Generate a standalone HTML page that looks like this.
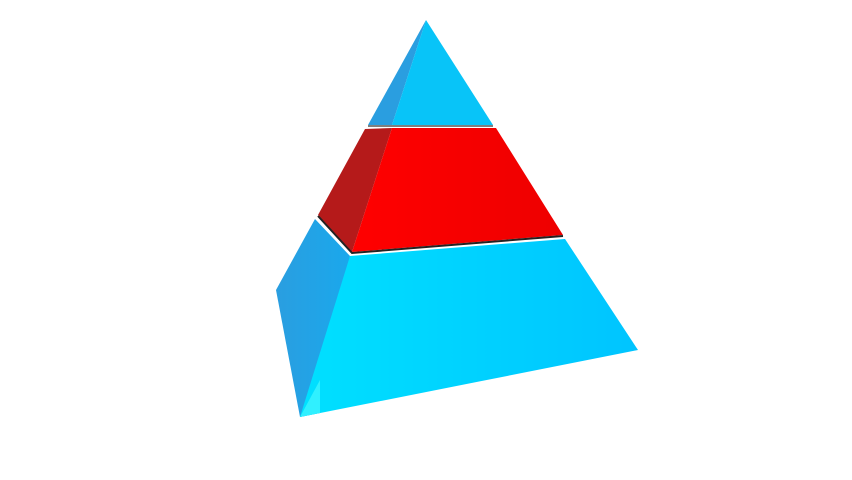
<!DOCTYPE html>
<html><head><meta charset="utf-8"><style>
html,body{margin:0;padding:0;background:#fff;width:852px;height:480px;overflow:hidden;font-family:"Liberation Sans",sans-serif}
</style></head><body>
<svg width="852" height="480">
<defs>
<linearGradient id="fb" x1="0" x2="1" y1="0" y2="0"><stop offset="0" stop-color="#00e0ff"/><stop offset="1" stop-color="#00c4ff"/></linearGradient>
<linearGradient id="lb" x1="0" x2="1"><stop offset="0" stop-color="#2a9ee0"/><stop offset="1" stop-color="#1aa8ec"/></linearGradient>
<linearGradient id="fr" x1="0" x2="1"><stop offset="0" stop-color="#ff0000"/><stop offset="1" stop-color="#ee0000"/></linearGradient>
</defs>
<g>
<polygon points="426,20 368,125 392,125" fill="#2a9ee0"/>
<polygon points="426,20 392,125 493,125" fill="#08c4f8"/>
<line x1="368" y1="126" x2="493" y2="126" stroke="#555" stroke-width="1.5"/>
</g>
<g>
<polygon points="365,129 392,128 352,252 318,215" fill="#b51a1a"/>
<polygon points="392,128 496,128 563,235 352,252" fill="url(#fr)"/>
<polyline points="318,216 352,253 563,236" fill="none" stroke="#222" stroke-width="2"/>
</g>
<g>
<polygon points="315,219 350,256 320,413 300,417 276,290" fill="url(#lb)"/>
<polygon points="350,256 565,239 638,350 300,417" fill="url(#fb)"/>
<polygon points="320,380 320,413 300,417" fill="#30f0ff"/>
</g>
</svg>
</body></html>
